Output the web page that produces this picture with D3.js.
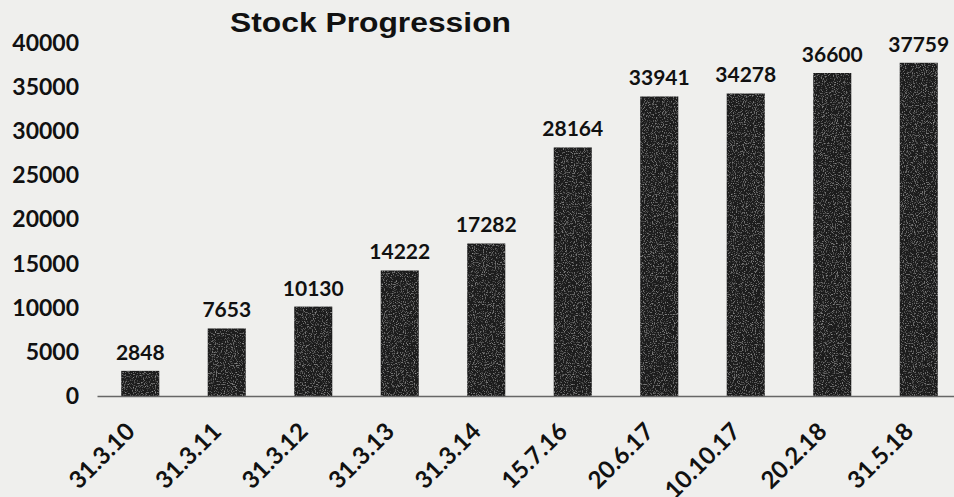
<!DOCTYPE html>
<html>
<head>
<meta charset="utf-8">
<script src="https://cdn.jsdelivr.net/npm/d3@7"></script>
<style>
  html, body { margin: 0; padding: 0; background: #efefed; }
  svg { display: block; }
</style>
</head>
<body>
<svg id="barChart" width="954" height="497"></svg>
<script>
const dates = ["31.3.10", "31.3.11", "31.3.12", "31.3.13", "31.3.14",
               "15.7.16", "20.6.17", "10.10.17", "20.2.18", "31.5.18"];
const stock = [2848, 7653, 10130, 14222, 17282, 28164, 33941, 34278, 36600, 37759];
const yTicks = [0, 5000, 10000, 15000, 20000, 25000, 30000, 35000, 40000];
const title = "Stock Progression";

const svg = d3.select("#barChart");
const width = 954, height = 497;
const font = "Lato, sans-serif";

svg.append("rect").attr("width", width).attr("height", height).attr("fill", "#efefed");

// light grain on the bars, like the scan
const defs = svg.append("defs");
const f = defs.append("filter").attr("id", "grain")
  .attr("x", 0).attr("y", 0).attr("width", 1).attr("height", 1);
f.append("feTurbulence").attr("type", "fractalNoise")
  .attr("baseFrequency", 0.9).attr("numOctaves", 2).attr("seed", 3).attr("result", "n");
f.append("feColorMatrix").attr("in", "n").attr("type", "matrix")
  .attr("values", "0 0 0 0 0.5  0 0 0 0 0.5  0 0 0 0 0.5  1.6 0 0 0 -0.85")
  .attr("result", "speck");
f.append("feComposite").attr("in", "speck").attr("in2", "SourceGraphic")
  .attr("operator", "in").attr("result", "speckIn");
const merge = f.append("feMerge");
merge.append("feMergeNode").attr("in", "SourceGraphic");
merge.append("feMergeNode").attr("in", "speckIn");

// scales
const x = d3.scaleBand()
  .domain(dates)
  .range([97, 962])
  .paddingInner(0.56)
  .paddingOuter(0.28);

const y = d3.scaleLinear()
  .domain([0, 40000])
  .range([396, 43]);

// bars
svg.append("g").selectAll("rect")
  .data(stock)
  .enter().append("rect")
    .attr("x", (d, i) => x(dates[i]))
    .attr("y", d => y(d))
    .attr("width", x.bandwidth())
    .attr("height", d => y(0) - y(d))
    .attr("fill", "#1e1e1e")
    .attr("filter", "url(#grain)");

// x axis
const xAxis = svg.append("g")
  .attr("transform", `translate(0,${y(0)})`)
  .call(d3.axisBottom(x).tickSize(0).tickSizeOuter(0));
xAxis.select(".domain").attr("stroke", "#666").attr("stroke-width", 1.5);
xAxis.selectAll("text")
  .attr("x", 0).attr("y", 0).attr("dy", 0)
  .attr("text-anchor", "end")
  .attr("transform", "translate(-4,37) rotate(-45)")
  .attr("font-family", font)
  .attr("font-weight", "bold")
  .attr("font-size", 24)
  .attr("fill", "#111");

// y axis
const yAxis = svg.append("g")
  .attr("transform", "translate(79,0)")
  .call(d3.axisLeft(y).tickValues(yTicks).tickSize(0).tickFormat(d3.format("d")));
yAxis.select(".domain").remove();
yAxis.selectAll("text")
  .attr("x", 0)
  .attr("text-anchor", "end")
  .attr("font-family", font)
  .attr("font-weight", "bold")
  .attr("font-size", 23)
  .attr("fill", "#111");

// value labels
svg.append("g").selectAll("text")
  .data(stock)
  .enter().append("text")
    .attr("text-anchor", "middle")
    .attr("x", (d, i) => x(dates[i]) + x.bandwidth() / 2)
    .attr("y", d => y(d) - 11)
    .attr("font-family", font)
    .attr("font-weight", "bold")
    .attr("font-size", 21)
    .attr("fill", "#111")
    .text(d => d);

// title
svg.append("text")
  .attr("x", 230)
  .attr("y", 32)
  .attr("textLength", 281)
  .attr("lengthAdjust", "spacingAndGlyphs")
  .attr("font-family", "'Liberation Sans', Arial, sans-serif")
  .attr("font-weight", "bold")
  .attr("font-size", 27)
  .attr("fill", "#111")
  .text(title);
</script>
</body>
</html>
